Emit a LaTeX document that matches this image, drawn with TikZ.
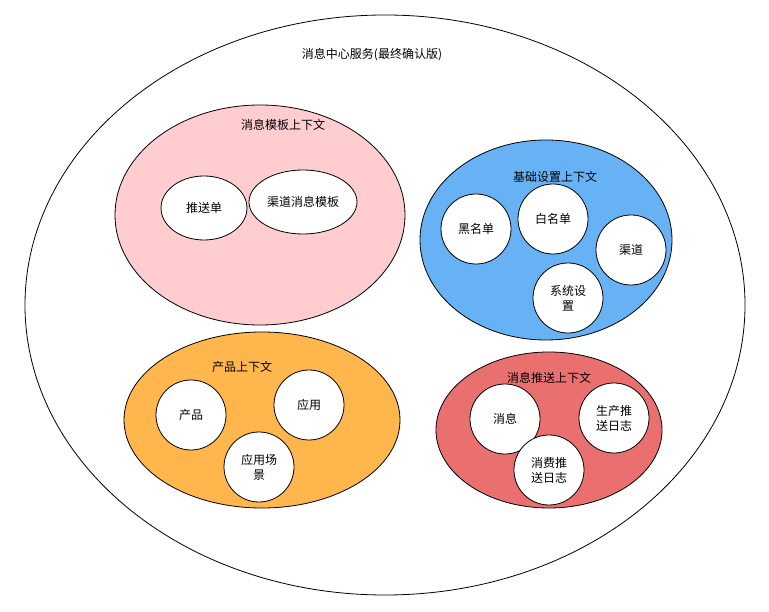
\documentclass[tikz,border=0pt]{standalone}
\usepackage{fontspec}
\usetikzlibrary{shapes.geometric}
\setmainfont{Noto Sans CJK SC}
\begin{document}
\begin{tikzpicture}[x=1pt,y=-1pt,
  ctx/.style={draw=black,line width=0.8pt},
  itm/.style={circle,draw=black,fill=white,line width=0.8pt,minimum size=70pt,inner sep=0pt,align=center,font=\fontsize{12}{15}\selectfont},
  lbl/.style={font=\fontsize{12}{15}\selectfont}]
\useasboundingbox (0,0) rectangle (769,612);
\fill[white] (0,0) rectangle (769,612);
\draw[ctx,fill=white] (385,305) ellipse [x radius=360, y radius=290];
\node[lbl] (t0) at (372,55) {消息中心服务(最终确认版)};
% pink
\draw[ctx,fill={rgb,255:red,255;green,204;blue,208}] (260,215) ellipse [x radius=145, y radius=110];
\node[lbl] (t1) at (283,125) {消息模板上下文};
\node[itm,ellipse,minimum width=86pt,minimum height=64pt] (a1) at (204,208) {推送单};
\node[itm,ellipse,minimum width=108pt,minimum height=64pt] (a2) at (303,202) {渠道消息模板};
% blue
\draw[ctx,fill={rgb,255:red,102;green,178;blue,245}] (546,240) ellipse [x radius=126, y radius=100];
\node[lbl] (t2) at (555,177) {基础设置上下文};
\node[itm] (b1) at (476,229) {黑名单};
\node[itm] (b2) at (553,219) {白名单};
\node[itm] (b3) at (631,250) {渠道};
\node[itm] (b4) at (568,298) {系统设\\置};
% orange
\draw[ctx,fill={rgb,255:red,255;green,183;blue,77}] (262,420) ellipse [x radius=138, y radius=88];
\node[lbl] (t3) at (242,367) {产品上下文};
\node[itm] (c1) at (191,415) {产品};
\node[itm] (c2) at (309,405) {应用};
\node[itm] (c3) at (259,467) {应用场\\景};
% red
\draw[ctx,fill={rgb,255:red,234;green,112;blue,112}] (549,430) ellipse [x radius=113, y radius=78];
\node[lbl] (t4) at (549,378) {消息推送上下文};
\node[itm] (d1) at (505,419) {消息};
\node[itm] (d2) at (614,418) {生产推\\送日志};
\node[itm] (d3) at (549,470) {消费推\\送日志};
\end{tikzpicture}
\end{document}
